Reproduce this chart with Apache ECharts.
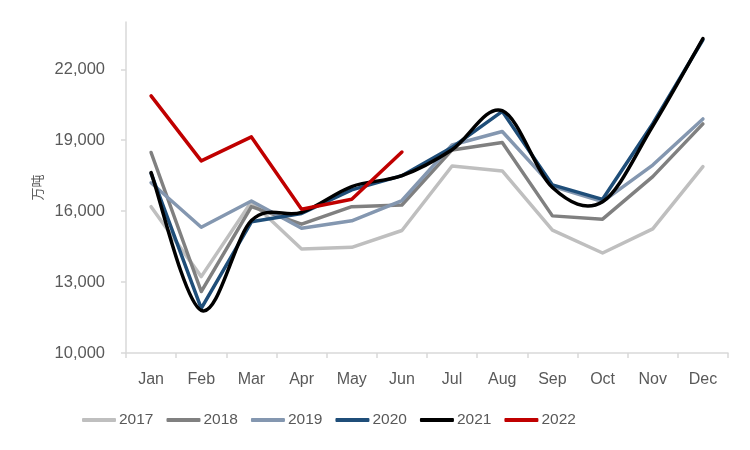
<!DOCTYPE html>
<html>
<head>
<meta charset="utf-8">
<script src="https://cdn.jsdelivr.net/npm/echarts@6/dist/echarts.min.js"></script>
<style>html,body{margin:0;padding:0;background:#fff}#c{width:750px;height:450px}</style>
</head>
<body>
<div id="c"></div>
<script>
const categories = ['Jan','Feb','Mar','Apr','May','Jun','Jul','Aug','Sep','Oct','Nov','Dec'];
const yTicks = [10000, 13000, 16000, 19000, 22000];
const s2017 = [16190, 13230, 16400, 14400, 14470, 15180, 17910, 17700, 15200, 14230, 15250, 17880];
const s2018 = [18480, 12600, 16190, 15450, 16190, 16260, 18590, 18900, 15800, 15660, 17460, 19690];
const s2019 = [17200, 15320, 16430, 15280, 15590, 16450, 18800, 19370, 17050, 16400, 17950, 19900];
const s2020 = [17600, 11890, 15550, 15900, 16900, 17500, 18700, 20220, 17110, 16500, 19700, 23250];
const s2021 = [17630, 11800, 15600, 15950, 17040, 17500, 18600, 20250, 17000, 16400, 19600, 23300];
const s2022 = [20875, 18124, 19140, 16080, 16500, 18500];
const names = ['2017','2018','2019','2020','2021','2022'];
const colors = ['#BFBFBF','#808080','#8497B0','#1F4E79','#000000','#C00000'];
const values = [s2017, s2018, s2019, s2020, s2021, s2022];

const chart = echarts.init(document.getElementById('c'), null, {renderer:'canvas'});
const font = 'Liberation Sans';
const LW = 3.5;

function smoothRender(data, color) {
  return function (params, api) {
    if (params.dataIndex !== 0) return null;
    const pts = data.map((v, i) => api.coord([i, v]));
    const n = pts.length;
    const P = i => pts[Math.max(0, Math.min(n - 1, i))];
    let d = 'M' + pts[0][0] + ' ' + pts[0][1];
    for (let i = 0; i < n - 1; i++) {
      const p0 = P(i - 1), p1 = P(i), p2 = P(i + 1), p3 = P(i + 2);
      const c1 = [p1[0] + (p2[0] - p0[0]) / 6, p1[1] + (p2[1] - p0[1]) / 6];
      const c2 = [p2[0] - (p3[0] - p1[0]) / 6, p2[1] - (p3[1] - p1[1]) / 6];
      d += ' C' + c1[0] + ' ' + c1[1] + ' ' + c2[0] + ' ' + c2[1] + ' ' + p2[0] + ' ' + p2[1];
    }
    return {
      type: 'path',
      shape: {pathData: d},
      style: {stroke: color, lineWidth: LW, fill: null, lineCap: 'round', lineJoin: 'round'}
    };
  };
}

const series = names.map((n, i) => {
  if (n === '2021') {
    return {
      name: n,
      type: 'custom',
      data: values[i].map((v, k) => [k, v]),
      encode: {x: 0, y: 1},
      itemStyle: {color: colors[i]},
      renderItem: smoothRender(values[i], colors[i]),
      z: 2 + i
    };
  }
  return {
    name: n,
    type: 'line',
    data: values[i],
    symbol: 'none',
    smooth: false,
    lineStyle: {width: LW, color: colors[i], cap: 'round', join: 'round'},
    itemStyle: {color: colors[i]},
    z: 2 + i
  };
});

chart.setOption({
  animation: false,
  color: colors,
  grid: {left: 126, right: 22, top: 22, bottom: 97},
  legend: {
    left: 77, top: 407,
    itemWidth: 34, itemHeight: 4, itemGap: 13,
    icon: 'roundRect',
    textStyle: {color: '#595959', fontSize: 15.5, fontFamily: font, padding: [0,0,0,-2]},
    data: names
  },
  xAxis: {
    type: 'category',
    data: categories,
    boundaryGap: true,
    axisLine: {lineStyle: {color: '#D9D9D9', width: 1.5}},
    axisTick: {show: true, length: 5, lineStyle: {color: '#D9D9D9', width: 1.5}},
    axisLabel: {color: '#595959', fontSize: 16, fontFamily: font, margin: 19}
  },
  yAxis: {
    type: 'value',
    min: 10000, max: 24000,
    name: '万吨',
    nameLocation: 'middle',
    nameRotate: 90,
    nameGap: 82,
    nameTextStyle: {color: '#595959', fontSize: 13, fontFamily: 'Noto Sans CJK SC'},
    splitLine: {show: false},
    axisLine: {show: true, lineStyle: {color: '#D9D9D9', width: 1.5}},
    axisTick: {show: true, length: 5, lineStyle: {color: '#D9D9D9', width: 1.5}, customValues: yTicks},
    axisLabel: {color: '#595959', fontSize: 16.5, fontFamily: font, margin: 21,
      customValues: yTicks,
      formatter: v => v.toLocaleString('en-US')}
  },
  series: series
});
</script>
</body>
</html>
